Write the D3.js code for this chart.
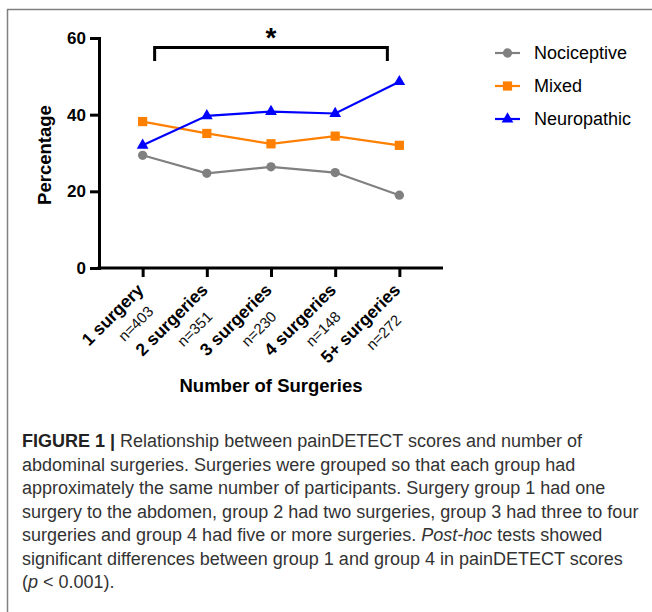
<!DOCTYPE html>
<html>
<head>
<meta charset="utf-8">
<script src="https://cdn.jsdelivr.net/npm/d3@7"></script>
<style>
	body { margin: 0; background: #fff; }
	svg { display: block; }
	.axis path, .axis line { stroke: #000; stroke-width: 3px; }
	.axis text { font-family: "Liberation Sans", Arial, sans-serif; font-weight: bold; fill: #000; }
</style>
</head>
<body>
<div id="chart"></div>
<script>
//values
var categories = ["1 surgery", "2 surgeries", "3 surgeries", "4 surgeries", "5+ surgeries"];
var group_sizes = ["n=403", "n=351", "n=230", "n=148", "n=272"];
var nociceptive = [29.4, 24.7, 26.4, 24.9, 19.0];
var mixed = [38.2, 35.1, 32.4, 34.4, 32.0];
var neuropathic = [32.0, 39.7, 40.8, 40.3, 48.6];
var y_ticks = [0, 20, 40, 60];

var caption_lines = [
	[["b", "FIGURE 1 | "], ["n", "Relationship between painDETECT scores and number of"]],
	[["n", "abdominal surgeries. Surgeries were grouped so that each group had"]],
	[["n", "approximately the same number of participants. Surgery group 1 had one"]],
	[["n", "surgery to the abdomen, group 2 had two surgeries, group 3 had three to four"]],
	[["n", "surgeries and group 4 had five or more surgeries. "], ["i", "Post-hoc"], ["n", " tests showed"]],
	[["n", "significant differences between group 1 and group 4 in painDETECT scores"]],
	[["n", "("], ["i", "p"], ["n", " < 0.001)."]]
];

var width = 652, height = 612;

var svg = d3.select("#chart").append("svg")
	.attr("width", width)
	.attr("height", height);

//frame round the figure (top and left edges only)
svg.append("path")
	.attr("d", "M7.5,612 V9.5 H652")
	.attr("fill", "none")
	.attr("stroke", "#808080")
	.attr("stroke-width", 1.5);

var x = d3.scalePoint()
	.domain(categories)
	.range([99, 443])
	.padding(0.68);

var y = d3.scaleLinear()
	.domain([0, 60])
	.range([268, 38]);

var series = [
	{name: "Nociceptive", values: nociceptive, color: "#808080", marker: "circle"},
	{name: "Mixed", values: mixed, color: "#ff8000", marker: "square"},
	{name: "Neuropathic", values: neuropathic, color: "#0000ff", marker: "triangle"}
];

function markerPath(type)
{
	if (type == "circle") return d3.symbol(d3.symbolCircle, 68)();
	if (type == "square") return d3.symbol(d3.symbolSquare, 85)();
	return d3.symbol(d3.symbolTriangle, 60)();
}

//axes
var y_axis = svg.append("g")
	.attr("class", "axis")
	.attr("transform", "translate(99,0)")
	.call(d3.axisLeft(y).tickValues(y_ticks).tickSizeOuter(0).tickSize(9).tickPadding(4));
y_axis.selectAll("text").style("font-size", "17px");

var x_axis = svg.append("g")
	.attr("class", "axis")
	.attr("transform", "translate(0,268)")
	.call(d3.axisBottom(x).tickSizeOuter(0).tickSize(9).tickFormat(""));

x_axis.select(".domain").attr("d", "M97.5,0H443");

//rotated category labels with group sizes
var labels = svg.append("g")
	.selectAll("g")
	.data(categories)
	.enter()
	.append("g")
		.attr("transform", function(d){ return "translate(" + (x(d) + 2) + ",291) rotate(-45)"; });

labels.append("text")
	.attr("class", "cat")
	.attr("text-anchor", "end")
	.style("font-family", "Liberation Sans, Arial, sans-serif")
	.style("font-weight", "bold")
	.style("font-size", "17.5px")
	.text(function(d){ return d; });

labels.each(function(d, i)
{
	var g = d3.select(this);
	var w = g.select("text.cat").node().getComputedTextLength();
	g.append("text")
		.attr("x", -w / 2 + 10)
		.attr("y", 22)
		.attr("text-anchor", "middle")
		.style("font-family", "Liberation Sans, Arial, sans-serif")
		.style("font-size", "15px")
		.style("fill", "#111")
		.text(group_sizes[i]);
});

//axis titles
svg.append("text")
	.attr("transform", "translate(51,155) rotate(-90)")
	.attr("text-anchor", "middle")
	.style("font-family", "Liberation Sans, Arial, sans-serif")
	.style("font-weight", "bold")
	.style("font-size", "18.5px")
	.text("Percentage");

svg.append("text")
	.attr("x", 271)
	.attr("y", 392)
	.attr("text-anchor", "middle")
	.style("font-family", "Liberation Sans, Arial, sans-serif")
	.style("font-weight", "bold")
	.style("font-size", "18.5px")
	.text("Number of Surgeries");

//lines and markers
var line = d3.line()
	.x(function(d, i){ return x(categories[i]); })
	.y(function(d){ return y(d); });

series.forEach(function(s)
{
	svg.append("path")
		.datum(s.values)
		.attr("fill", "none")
		.attr("stroke", s.color)
		.attr("stroke-width", 2.2)
		.attr("d", line);

	svg.append("g")
		.selectAll("path")
		.data(s.values)
		.enter()
		.append("path")
			.attr("transform", function(d, i){ return "translate(" + x(categories[i]) + "," + y(d) + ")"; })
			.attr("d", markerPath(s.marker))
			.attr("fill", s.color);
});

//significance bracket between group 1 and group 5+
var bx1 = x(categories[0]) + 12, bx2 = x(categories[4]) - 12, by = 47.5;
svg.append("path")
	.attr("d", "M" + bx1 + ",61 V" + by + " H" + bx2 + " V61")
	.attr("fill", "none")
	.attr("stroke", "#000")
	.attr("stroke-width", 3);

svg.append("text")
	.attr("x", (bx1 + bx2) / 2)
	.attr("y", 47)
	.attr("text-anchor", "middle")
	.style("font-family", "Liberation Sans, Arial, sans-serif")
	.style("font-weight", "bold")
	.style("font-size", "28px")
	.text("*");

//legend
var legend = svg.append("g")
	.selectAll("g")
	.data(series)
	.enter()
	.append("g")
		.attr("transform", function(d, i){ return "translate(495," + (53 + i * 33) + ")"; });

legend.append("line")
	.attr("x1", 0).attr("x2", 25)
	.attr("stroke", function(d){ return d.color; })
	.attr("stroke-width", 2.2);

legend.append("path")
	.attr("transform", "translate(12.5,0)")
	.attr("d", function(d){ return markerPath(d.marker); })
	.attr("fill", function(d){ return d.color; });

legend.append("text")
	.attr("x", 39)
	.attr("dy", "0.35em")
	.style("font-family", "Liberation Sans, Arial, sans-serif")
	.style("font-size", "18px")
	.text(function(d){ return d.name; });

//figure caption
var caption = svg.append("g")
	.style("font-family", "Liberation Sans, Arial, sans-serif")
	.style("font-size", "18px")
	.style("fill", "#333");

caption_lines.forEach(function(parts, i)
{
	var t = caption.append("text")
		.attr("x", 22)
		.attr("y", 447 + i * 23.5);
	parts.forEach(function(p)
	{
		var span = t.append("tspan").text(p[1]);
		if (p[0] == "b") span.style("font-weight", "bold").style("fill", "#222");
		if (p[0] == "i") span.style("font-style", "italic");
	});
});
</script>
</body>
</html>
